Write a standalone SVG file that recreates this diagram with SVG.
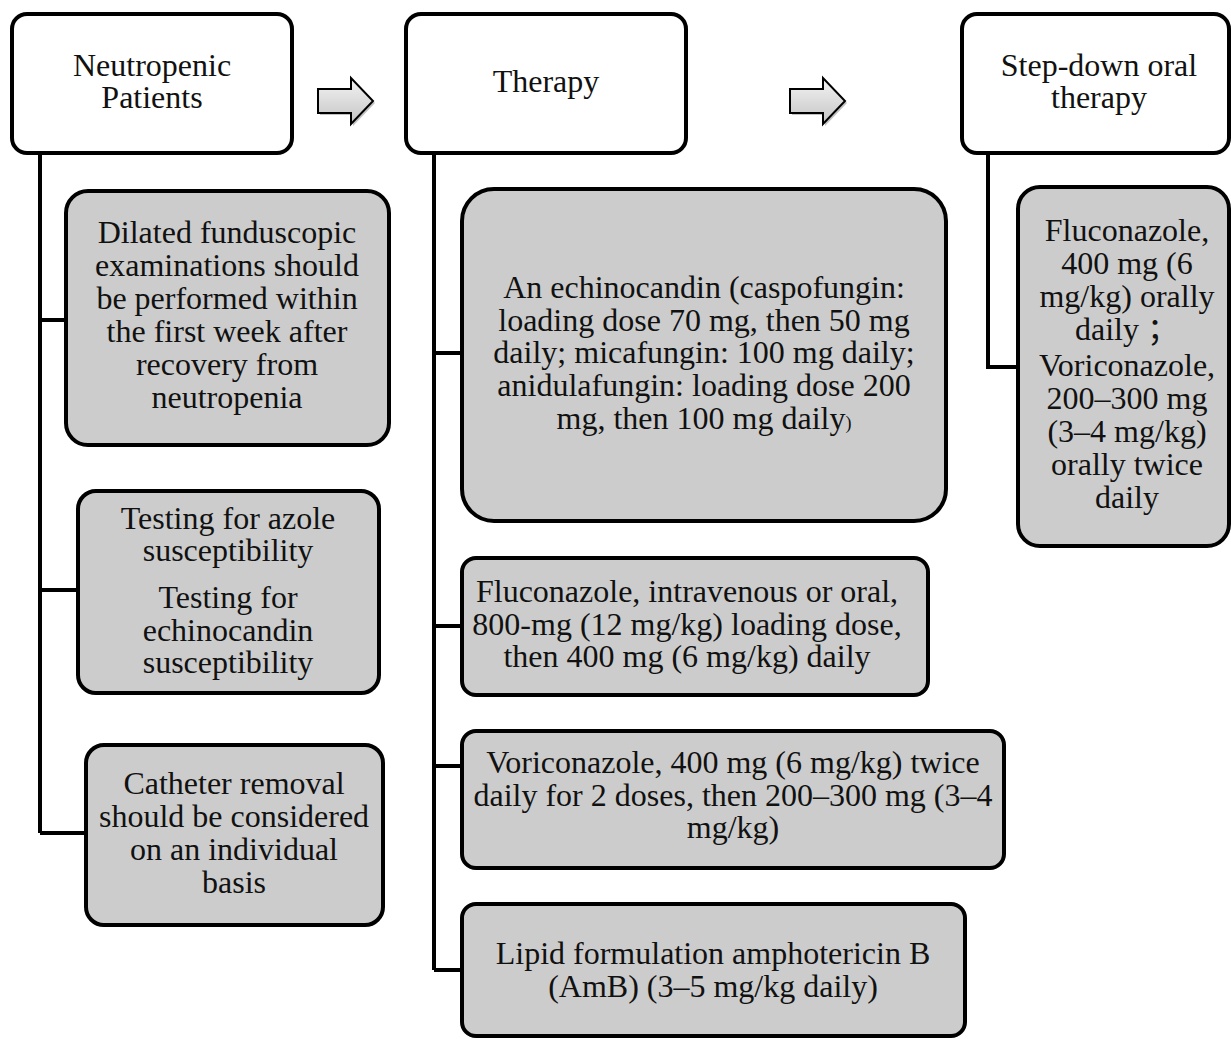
<svg xmlns="http://www.w3.org/2000/svg" width="1231" height="1039" viewBox="0 0 1231 1039">
  <defs>
    <linearGradient id="arrowFill" x1="0" y1="0" x2="0" y2="1">
      <stop offset="0" stop-color="#f4f4f4"/>
      <stop offset="1" stop-color="#c4c4c4"/>
    </linearGradient>
    <path id="blockArrow" d="M0,12 H33 V1 L55,24 L33,47 V36 H0 Z"/>
  </defs>
  <style>
    .head { fill: #ffffff; stroke: #000; stroke-width: 4; }
    .item { fill: #cccccc; stroke: #000; stroke-width: 4; }
    .wire { fill: none; stroke: #000; stroke-width: 4; }
    text { font-family: "Liberation Serif", "Times New Roman", "Noto Sans CJK SC", serif; font-size: 32px; fill: #111; text-anchor: middle; }
    .arrow { fill: url(#arrowFill); stroke: #000; stroke-width: 2; }
    .shadow { fill: #9a9a9a; opacity: 0.6; }
  </style>

  <!-- connectors -->
  <g id="connectors">
    <path class="wire" d="M40,153 V833 M40,320 H66 M40,590 H78 M40,833 H86"/>
    <path class="wire" d="M434,153 V970 M434,353 H462 M434,626 H462 M434,766 H462 M434,970 H462"/>
    <path class="wire" d="M988,153 V367 H1018"/>
    <g id="arrow1" transform="translate(318,77)">
      <use href="#blockArrow" class="shadow" transform="translate(2,2)"/>
      <use href="#blockArrow" class="arrow"/>
    </g>
    <g id="arrow2" transform="translate(790,77)">
      <use href="#blockArrow" class="shadow" transform="translate(2,2)"/>
      <use href="#blockArrow" class="arrow"/>
    </g>
  </g>

  <!-- column headers -->
  <g id="neutropenic">
    <rect class="head" x="12" y="14" width="280" height="139" rx="15"/>
    <text x="152" y="76">Neutropenic</text>
    <text x="152" y="108">Patients</text>
  </g>
  <g id="therapy">
    <rect class="head" x="406" y="14" width="280" height="139" rx="15"/>
    <text x="546" y="92">Therapy</text>
  </g>
  <g id="stepdown">
    <rect class="head" x="962" y="14" width="267" height="139" rx="15"/>
    <text x="1099" y="76">Step-down oral</text>
    <text x="1099" y="108">therapy</text>
  </g>

  <!-- neutropenic column items -->
  <g id="funduscopic">
    <rect class="item" x="66" y="191" width="323" height="254" rx="22"/>
    <text x="227" y="243">Dilated funduscopic</text>
    <text x="227" y="276">examinations should</text>
    <text x="227" y="309">be performed within</text>
    <text x="227" y="342">the first week after</text>
    <text x="227" y="375">recovery from</text>
    <text x="227" y="408">neutropenia</text>
  </g>
  <g id="susceptibility">
    <rect class="item" x="78" y="491" width="301" height="202" rx="18"/>
    <text x="228" y="529">Testing for azole</text>
    <text x="228" y="561">susceptibility</text>
    <text x="228" y="608">Testing for</text>
    <text x="228" y="641">echinocandin</text>
    <text x="228" y="673">susceptibility</text>
  </g>
  <g id="catheter">
    <rect class="item" x="86" y="745" width="297" height="180" rx="18"/>
    <text x="234" y="794">Catheter removal</text>
    <text x="234" y="827">should be considered</text>
    <text x="234" y="860">on an individual</text>
    <text x="234" y="893">basis</text>
  </g>

  <!-- therapy column items -->
  <g id="echinocandin">
    <rect class="item" x="462" y="189" width="484" height="332" rx="32"/>
    <text x="704" y="298">An echinocandin (caspofungin:</text>
    <text x="704" y="331">loading dose 70 mg, then 50 mg</text>
    <text x="704" y="363">daily; micafungin: 100 mg daily;</text>
    <text x="704" y="396">anidulafungin: loading dose 200</text>
    <text x="704" y="429">mg, then 100 mg daily<tspan font-size="18">)</tspan></text>
  </g>
  <g id="fluconazole-iv">
    <rect class="item" x="462" y="558" width="466" height="137" rx="14"/>
    <text x="687" y="602">Fluconazole, intravenous or oral,</text>
    <text x="687" y="635">800-mg (12 mg/kg) loading dose,</text>
    <text x="687" y="667">then 400 mg (6 mg/kg) daily</text>
  </g>
  <g id="voriconazole-iv">
    <rect class="item" x="462" y="731" width="542" height="137" rx="14"/>
    <text x="733" y="773">Voriconazole, 400 mg (6 mg/kg) twice</text>
    <text x="733" y="806">daily for 2 doses, then 200–300 mg (3–4</text>
    <text x="733" y="838">mg/kg)</text>
  </g>
  <g id="amphotericin">
    <rect class="item" x="462" y="904" width="503" height="132" rx="14"/>
    <text x="713" y="964">Lipid formulation amphotericin B</text>
    <text x="713" y="997">(AmB) (3–5 mg/kg daily)</text>
  </g>

  <!-- step-down column item -->
  <g id="oral">
    <rect class="item" x="1018" y="187" width="211" height="359" rx="22"/>
    <text x="1127" y="241">Fluconazole,</text>
    <text x="1127" y="274">400 mg (6</text>
    <text x="1127" y="307">mg/kg) orally</text>
    <text x="1127" y="340">daily ；</text>
    <text x="1127" y="376">Voriconazole,</text>
    <text x="1127" y="409">200–300 mg</text>
    <text x="1127" y="442">(3–4 mg/kg)</text>
    <text x="1127" y="475">orally twice</text>
    <text x="1127" y="508">daily</text>
  </g>
</svg>
